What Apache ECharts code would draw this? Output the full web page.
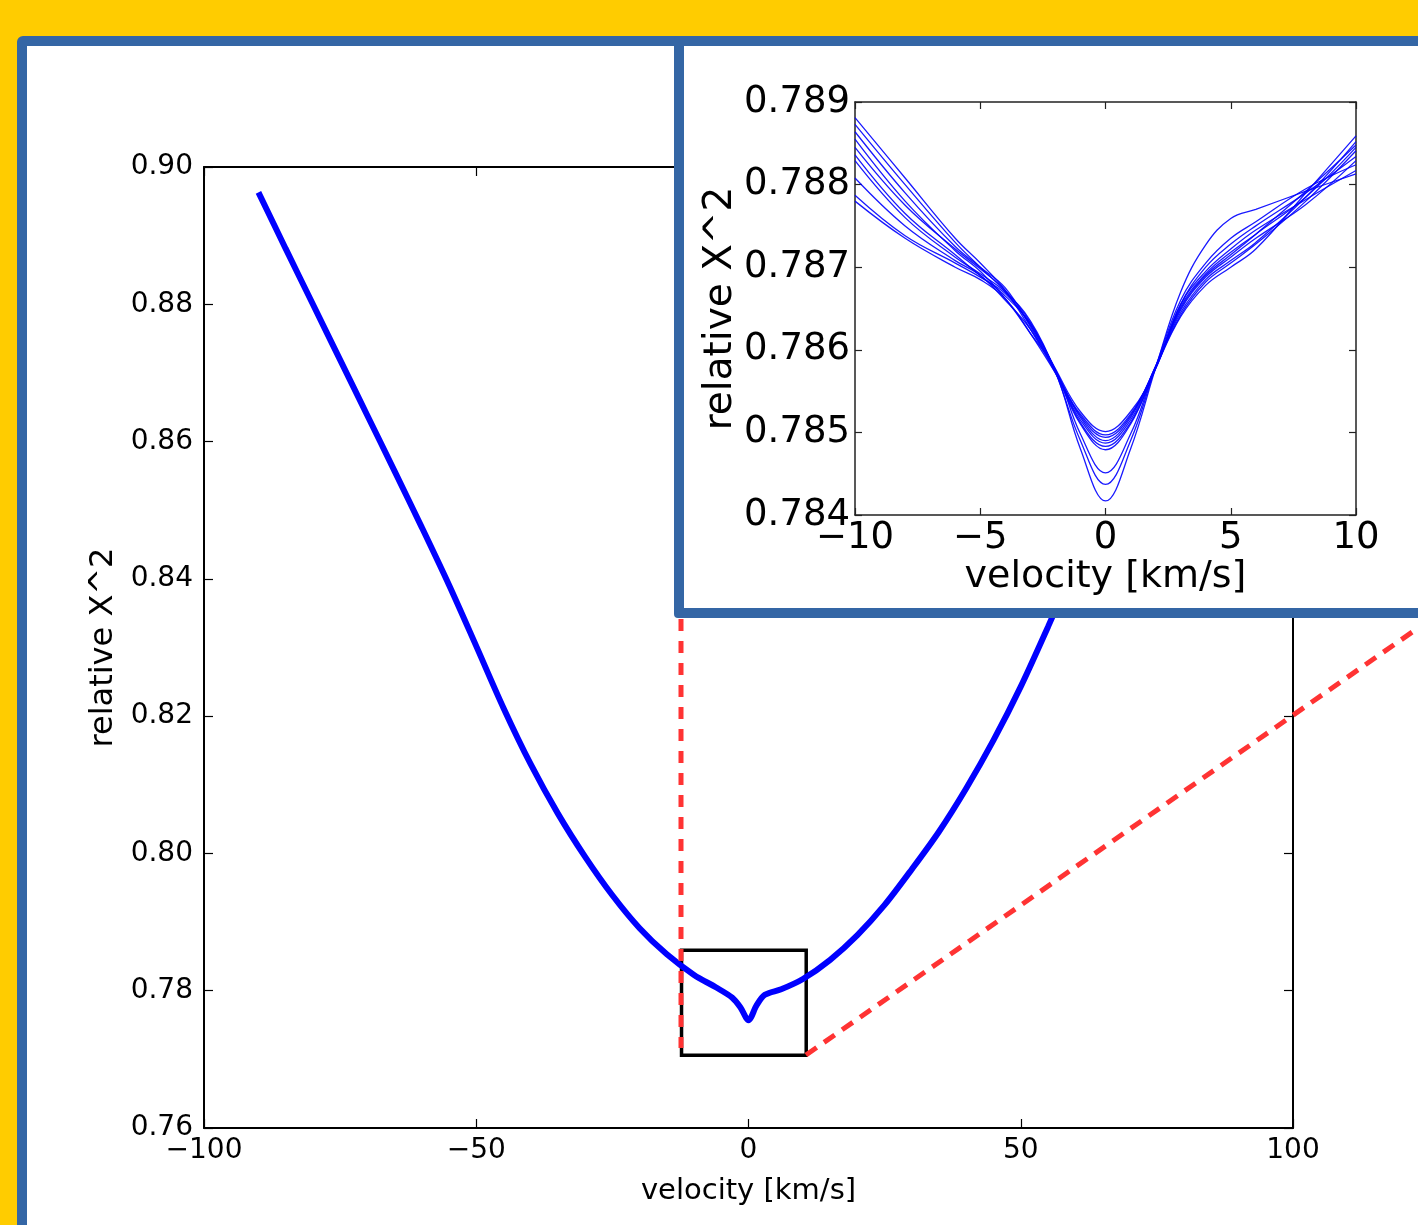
<!DOCTYPE html>
<html>
<head>
<meta charset="utf-8">
<title>relative X^2 vs velocity</title>
<script src="https://cdn.jsdelivr.net/npm/echarts@6/dist/echarts.min.js"></script>
<style>
html, body { margin: 0; padding: 0; width: 1418px; height: 1225px; overflow: hidden; background: #ffcc00; }
#panel { position: absolute; left: 17px; top: 36px; width: 1500px; height: 1300px; box-sizing: border-box;
         border: 10px solid #3466a5; border-radius: 6px; background: #fff; }
#main { position: absolute; left: 0; top: 0; width: 1418px; height: 1225px; }
#insetBox { position: absolute; left: 674px; top: 36px; width: 900px; height: 582px; box-sizing: border-box;
            border: 10px solid #3466a5; border-radius: 4px; background: #fff; }
#inset { position: absolute; left: 0; top: 0; width: 1418px; height: 1225px; }
</style>
</head>
<body>
<div id="panel"></div>
<div id="main"></div>
<div id="insetBox"></div>
<div id="inset"></div>
<script>
// big plot: velocity vs relative X^2 (band of runs, drawn as one thick line)
var mainVel = [-90, -85, -80, -75, -70, -65, -60, -55, -50, -45, -40, -35, -30, -25, -20, -15, -10, -6, -3, -1.5, 0,
               1.5, 3, 6, 10, 15, 20, 25, 30, 35, 40, 45, 50, 55, 60, 65, 70, 75, 80, 85, 90];
var mainChi = [0.8963, 0.8881, 0.8800, 0.8719, 0.8638, 0.8557, 0.8475, 0.8391, 0.8302, 0.8212, 0.8130, 0.8058, 0.7995,
               0.7939, 0.7891, 0.7853, 0.7823, 0.7805, 0.7790, 0.7776, 0.7757,
               0.7779, 0.7794, 0.7802, 0.7817, 0.7845, 0.7881, 0.7925, 0.7977, 0.8032, 0.8095, 0.8165, 0.8243,
               0.8330, 0.8420, 0.8510, 0.8600, 0.8690, 0.8780, 0.8870, 0.8960];
var mainXTicks = [-100, -50, 0, 50, 100];
var mainYTicks = [0.76, 0.78, 0.80, 0.82, 0.84, 0.86, 0.88, 0.90];

// zoom window marked on the big plot (velocity range, X^2 range)
var zoomVel = [-12.3, 10.6];
var zoomChi = [0.7706, 0.7859];

// inset: the individual runs near the minimum
var insetVel = [-10, -8, -6, -5, -4, -3, -2, -1, 0, 1, 2, 3, 4, 5, 6, 8, 10];
var insetRuns = [
    [0.78881, 0.78808, 0.78735, 0.78705, 0.78672, 0.78625, 0.78572, 0.78510, 0.78479, 0.78510, 0.78578, 0.78640, 0.78678, 0.78700, 0.78722, 0.78790, 0.78859],
    [0.78873, 0.78800, 0.78730, 0.78700, 0.78670, 0.78630, 0.78574, 0.78515, 0.78487, 0.78515, 0.78579, 0.78645, 0.78685, 0.78708, 0.78730, 0.78785, 0.78852],
    [0.78864, 0.78790, 0.78725, 0.78700, 0.78675, 0.78628, 0.78575, 0.78520, 0.78494, 0.78520, 0.78580, 0.78650, 0.78690, 0.78715, 0.78740, 0.78792, 0.78848],
    [0.78855, 0.78780, 0.78720, 0.78695, 0.78662, 0.78620, 0.78576, 0.78498, 0.78451, 0.78498, 0.78578, 0.78642, 0.78682, 0.78705, 0.78728, 0.78780, 0.78841],
    [0.78836, 0.78765, 0.78715, 0.78690, 0.78665, 0.78632, 0.78577, 0.78525, 0.78501, 0.78525, 0.78577, 0.78655, 0.78700, 0.78728, 0.78750, 0.78790, 0.78834],
    [0.78829, 0.78760, 0.78712, 0.78692, 0.78670, 0.78635, 0.78573, 0.78490, 0.78437, 0.78490, 0.78579, 0.78660, 0.78705, 0.78735, 0.78755, 0.78795, 0.78824],
    [0.78808, 0.78750, 0.78708, 0.78690, 0.78660, 0.78625, 0.78575, 0.78518, 0.78490, 0.78518, 0.78580, 0.78655, 0.78695, 0.78722, 0.78745, 0.78782, 0.78817],
    [0.78787, 0.78738, 0.78705, 0.78688, 0.78668, 0.78630, 0.78574, 0.78480, 0.78417, 0.78480, 0.78578, 0.78670, 0.78727, 0.78759, 0.78770, 0.78792, 0.78813],
    [0.78780, 0.78735, 0.78700, 0.78685, 0.78662, 0.78620, 0.78572, 0.78522, 0.78497, 0.78522, 0.78579, 0.78648, 0.78688, 0.78712, 0.78735, 0.78776, 0.78829],
    [0.78845, 0.78775, 0.78722, 0.78698, 0.78672, 0.78633, 0.78576, 0.78512, 0.78483, 0.78512, 0.78577, 0.78652, 0.78692, 0.78718, 0.78740, 0.78785, 0.78845]
];
var insetXTicks = [-10, -5, 0, 5, 10];
var insetYTicks = [0.784, 0.785, 0.786, 0.787, 0.788, 0.789];

var font = 'DejaVu Sans';

// tiny stand-in for jQuery's extend, the page has no jQuery
var $ = {
    extend: function (target) {
        for (var i = 1; i < arguments.length; i++) {
            for (var k in arguments[i]) {
                target[k] = arguments[i][k];
            }
        }
        return target;
    }
};

function minusSign(s) {
    return String(s).replace('-', '\u2212');
}

function step(ticks) {
    return Math.round((ticks[1] - ticks[0]) * 1e6) / 1e6;
}

function pairs(xs, ys) {
    var out = [];
    for (var i = 0; i < xs.length; i++) {
        out.push([xs[i], ys[i]]);
    }
    return out;
}

// one frame = bottom/left axes with labels + top/right axes with ticks only
function frameAxes(xTicks, yTicks, cfg) {
    var line = {show: true, onZero: false, lineStyle: {color: cfg.frameColor, width: cfg.frameWidth}};
    var tick = {show: true, inside: true, length: cfg.tickLen, lineStyle: {color: cfg.frameColor, width: 1.2}};
    var xBase = {type: 'value', min: xTicks[0], max: xTicks[xTicks.length - 1], interval: step(xTicks),
                 axisLine: line, axisTick: tick, splitLine: {show: false}};
    var yBase = {type: 'value', min: yTicks[0], max: yTicks[yTicks.length - 1], interval: step(yTicks),
                 axisLine: line, axisTick: tick, splitLine: {show: false}};
    var xAxis = [
        $.extend({}, xBase, {
            position: 'bottom',
            axisLabel: {margin: cfg.xMargin, fontSize: cfg.fontSize, fontFamily: font, color: '#000',
                        formatter: function (v) { return minusSign(v); }},
            name: 'velocity [km/s]', nameLocation: 'middle', nameGap: cfg.xNameGap,
            nameTextStyle: {fontSize: cfg.xNameSize, fontFamily: font, color: '#000'}
        }),
        $.extend({}, xBase, {position: 'top', axisLabel: {show: false}})
    ];
    var yAxis = [
        $.extend({}, yBase, {
            position: 'left',
            axisLabel: {margin: cfg.yMargin, fontSize: cfg.fontSize, fontFamily: font, color: '#000',
                        formatter: function (v) { return v.toFixed(cfg.digits); }},
            name: 'relative X^2', nameLocation: 'middle', nameGap: cfg.yNameGap,
            nameTextStyle: {fontSize: cfg.yNameSize, fontFamily: font, color: '#000'}
        }),
        $.extend({}, yBase, {position: 'right', axisLabel: {show: false}})
    ];
    return {xAxis: xAxis, yAxis: yAxis};
}

function drawMain() {
    var myChart = echarts.init(document.getElementById('main'), null, {renderer: 'canvas'});
    var axes = frameAxes(mainXTicks, mainYTicks, {
        frameColor: '#000', frameWidth: 2, tickLen: 9, fontSize: 28, digits: 2,
        xMargin: 9, yMargin: 11, xNameGap: 49, yNameGap: 77, xNameSize: 29, yNameSize: 32
    });
    var option = {
        animation: false,
        grid: {left: 204, top: 167, width: 1089, height: 961, containLabel: false},
        xAxis: axes.xAxis,
        yAxis: axes.yAxis,
        series: [{
            name: 'runs',
            type: 'line',
            xAxisIndex: 0,
            yAxisIndex: 0,
            data: pairs(mainVel, mainChi),
            showSymbol: false,
            smooth: 0.3,
            lineStyle: {color: '#0000ff', width: 6},
            itemStyle: {color: '#0000ff'},
            z: 2,
            markArea: {
                silent: true,
                label: {show: false},
                itemStyle: {color: 'rgba(0,0,0,0)', borderColor: '#000', borderWidth: 3.5},
                data: [[{coord: [zoomVel[0], zoomChi[1]]}, {coord: [zoomVel[1], zoomChi[0]]}]]
            }
        }],
        // red dashed guides from the zoom box to the inset
        graphic: [
            {type: 'line', z: 100, shape: {x1: 681, y1: 619, x2: 681, y2: 1048},
             style: {stroke: '#ff3333', lineWidth: 5, lineDash: [12, 10]}},
            {type: 'line', z: 100, shape: {x1: 806, y1: 1055, x2: 1418, y2: 628},
             style: {stroke: '#ff3333', lineWidth: 5, lineDash: [13, 9]}}
        ]
    };
    myChart.setOption(option);
}

function drawInset() {
    var myChart = echarts.init(document.getElementById('inset'), null, {renderer: 'canvas'});
    var axes = frameAxes(insetXTicks, insetYTicks, {
        frameColor: '#222', frameWidth: 1.5, tickLen: 7, fontSize: 37, digits: 3,
        xMargin: 5, yMargin: 5, xNameGap: 28, yNameGap: 101, xNameSize: 38, yNameSize: 39
    });
    var series = [];
    for (var i = 0; i < insetRuns.length; i++) {
        series.push({
            name: 'run ' + (i + 1),
            type: 'line',
            data: pairs(insetVel, insetRuns[i]),
            showSymbol: false,
            smooth: 0.4,
            lineStyle: {color: '#0000ff', width: 1.3, opacity: 0.9},
            itemStyle: {color: '#0000ff'}
        });
    }
    var option = {
        animation: false,
        grid: {left: 855, top: 102, width: 501, height: 413, containLabel: false},
        xAxis: axes.xAxis,
        yAxis: axes.yAxis,
        series: series
    };
    myChart.setOption(option);
}

drawMain();
drawInset();
</script>
</body>
</html>
